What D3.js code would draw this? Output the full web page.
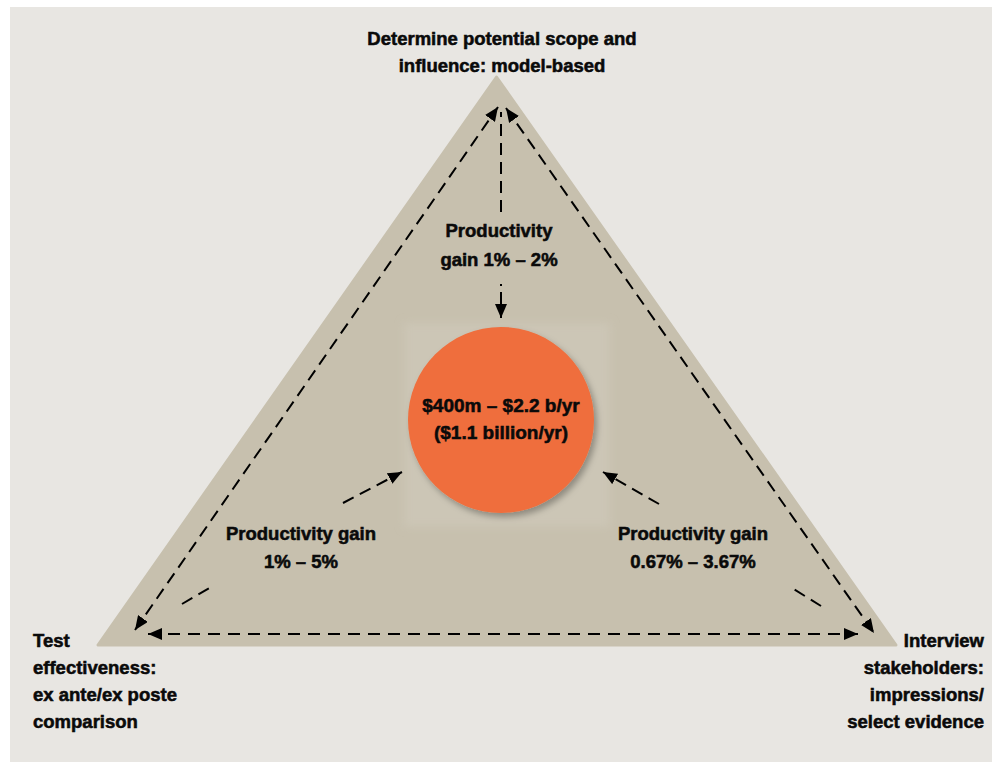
<!DOCTYPE html>
<html>
<head>
<meta charset="utf-8">
<script src="https://cdn.jsdelivr.net/npm/d3@7"></script>
<style>
  html, body { margin: 0; padding: 0; background: #ffffff; }
  svg text { font-family: "Liberation Sans", Arial, sans-serif; font-weight: bold; fill: #0a0a0a; stroke: #0a0a0a; stroke-width: 0.55; }
</style>
</head>
<body>
<div id="chart"></div>
<script>
// labels of the diagram
const cornerTop = ["Determine potential scope and", "influence: model-based"];
const cornerLeft = ["Test", "effectiveness:", "ex ante/ex poste", "comparison"];
const cornerRight = ["Interview", "stakeholders:", "impressions/", "select evidence"];
const gainTop = ["Productivity", "gain 1% – 2%"];
const gainLeft = ["Productivity gain", "1% – 5%"];
const gainRight = ["Productivity gain", "0.67% – 3.67%"];
const centerLabel = ["$400m – $2.2 b/yr", "($1.1 billion/yr)"];

function drawDiagram() {
    const width = 992;
    const height = 768;

    var svg = d3.select("#chart")
        .append("svg")
        .attr("width", width)
        .attr("height", height);

    // unit triangle space -> pixels
    var x = d3.scaleLinear().domain([0, 1]).range([98, 896]);
    var y = d3.scaleLinear().domain([0, 1]).range([77, 645]);

    var defs = svg.append("defs");
    defs.append("marker")
        .attr("id", "head")
        .attr("viewBox", "0 0 14 12")
        .attr("refX", 14)
        .attr("refY", 6)
        .attr("markerWidth", 14)
        .attr("markerHeight", 12)
        .attr("markerUnits", "userSpaceOnUse")
        .attr("orient", "auto-start-reverse")
        .append("path")
        .attr("d", "M0,0 L14,6 L0,12 Z")
        .attr("fill", "#000");

    var sh = defs.append("filter").attr("id", "shadow")
        .attr("x", "-20%").attr("y", "-20%").attr("width", "150%").attr("height", "150%");
    sh.append("feDropShadow")
        .attr("dx", 3).attr("dy", 4).attr("stdDeviation", 3)
        .attr("flood-color", "#000").attr("flood-opacity", 0.3);

    var glow = defs.append("filter").attr("id", "glow");
    glow.append("feGaussianBlur").attr("stdDeviation", 4);

    // panel
    svg.append("rect")
        .attr("x", 10).attr("y", 7)
        .attr("width", width - 10).attr("height", 755)
        .attr("fill", "#e8e6e2");

    // triangle
    var tri = [[0.4994, 0], [0, 1], [1, 1]];
    svg.append("path")
        .attr("d", d3.line().x(d => x(d[0])).y(d => y(d[1]))(tri) + "Z")
        .attr("fill", "#c7c0ae")
        .attr("stroke", "#c7c0ae")
        .attr("stroke-width", 3)
        .attr("stroke-linejoin", "round");

    // faint square behind the circle
    svg.append("rect")
        .attr("x", 404).attr("y", 323)
        .attr("width", 206).attr("height", 204)
        .attr("fill", "#ccc6b6")
        .attr("filter", "url(#glow)");

    // circle
    var cx = 501, cy = 420;
    svg.append("circle")
        .attr("cx", cx).attr("cy", cy).attr("r", 93)
        .attr("fill", "#ef6e3c")
        .attr("filter", "url(#shadow)");

    // dashed arrows: [x1, y1, x2, y2, startHead, endHead, dash]
    var arrows = [
        [135, 630, 498, 107, true, true, "12,7"],
        [506, 108, 874, 633, true, true, "12,7"],
        [148, 634, 858, 634, true, true, "12,8"],
        [501, 212, 501, 112, false, false, "12,7"],
        [501, 284, 501, 318, false, true, "2,6,40"],
        [343, 503, 402, 472, false, true, "12,7"],
        [182, 604, 213, 586, false, false, "12,7"],
        [659, 504, 603, 472, false, true, "12,7"],
        [821, 606, 792, 588, false, false, "12,7"]
    ];
    svg.append("g")
        .selectAll("line")
        .data(arrows)
        .enter()
        .append("line")
        .attr("x1", d => d[0]).attr("y1", d => d[1])
        .attr("x2", d => d[2]).attr("y2", d => d[3])
        .attr("stroke", "#000")
        .attr("stroke-width", 2)
        .attr("stroke-dasharray", d => d[6])
        .attr("marker-start", d => d[4] ? "url(#head)" : null)
        .attr("marker-end", d => d[5] ? "url(#head)" : null);

    // text blocks
    function block(lines, tx, ty, anchor, lh, size) {
        svg.append("g")
            .selectAll("text")
            .data(lines)
            .enter()
            .append("text")
            .attr("x", tx)
            .attr("y", (d, i) => ty + i * lh)
            .attr("text-anchor", anchor)
            .attr("font-size", size)
            .text(d => d);
    }

    block(cornerTop, 502, 45, "middle", 27, 18.5);
    block(cornerLeft, 33, 647, "start", 27, 18.5);
    block(cornerRight, 984, 647, "end", 27, 18.5);
    block(gainTop, 499, 237, "middle", 29, 18.5);
    block(gainLeft, 301, 540, "middle", 28, 18.5);
    block(gainRight, 693, 540, "middle", 28, 18.5);
    block(centerLabel, 501, 412, "middle", 27, 19);
}

drawDiagram();
</script>
</body>
</html>
